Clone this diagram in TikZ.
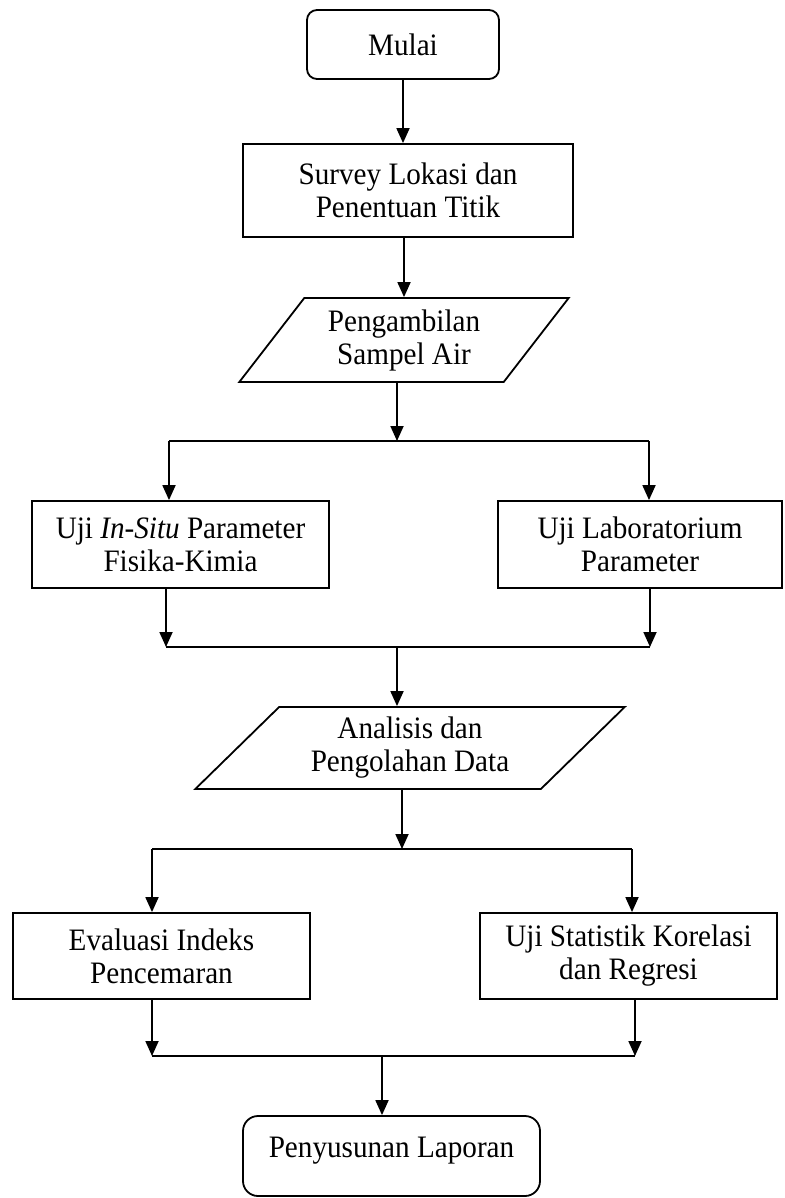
\documentclass[tikz,border=0pt]{standalone}
\usepackage{fontspec}
\setmainfont{Liberation Serif}[FakeStretch=0.935]
\usetikzlibrary{shapes.geometric,arrows.meta}

\begin{document}
\begin{tikzpicture}[x=1pt, y={(0pt,-1pt)}, line width=1.8pt,
        every node/.style={font=\fontsize{31.2}{33}\selectfont, align=center, inner sep=0pt},
        term/.style={draw, rounded corners=10pt, minimum width=192, minimum height=69},
        box/.style={draw, minimum width=297, minimum height=87},
        data/.style={draw, trapezium, trapezium stretches=true},
        arr/.style={-{Triangle[length=15pt,width=13pt]}}]
        \useasboundingbox (0,0) rectangle (784,1198);

        % steps
        \node[term] (mulai) at (403,44.5) {Mulai};
        \node[box, minimum width=330, minimum height=93] (survey) at (408,190.5) {Survey Lokasi dan\\Penentuan Titik};
        \node[data, trapezium left angle=51, trapezium right angle=129, minimum width=330, minimum height=84] (sampel) at (404,340) {Pengambilan\\Sampel Air};
        \node[box] (insitu) at (180.5,544.5) {Uji \textit{In-Situ} Parameter\\Fisika-Kimia};
        \node[box, minimum width=284] (lab) at (640,544.5) {Uji Laboratorium\\Parameter};
        \node[data, trapezium left angle=44, trapezium right angle=136, minimum width=430, minimum height=82] (analisis) at (410,748) {Analisis dan\\Pengolahan Data};
        \node[box, minimum height=86] (evaluasi) at (161.5,956) {Evaluasi Indeks\\Pencemaran};
        \node[box, minimum height=86] (regresi) at (628.5,956) {Uji Statistik Korelasi\\dan Regresi};
        \node[term, rounded corners=15pt, minimum width=297, minimum height=80, text depth=18pt] (laporan) at (391.5,1156) {Penyusunan Laporan};

        % branch points
        \coordinate (s1)  at (397,441);
        \coordinate (s1l) at (169,441);
        \coordinate (s1r) at (649,441);
        \coordinate (j1)  at (397,647);
        \coordinate (j1l) at (166,647);
        \coordinate (j1r) at (650,647);
        \coordinate (s2)  at (402,849);
        \coordinate (s2l) at (152,849);
        \coordinate (s2r) at (632,849);
        \coordinate (j2)  at (382,1056);
        \coordinate (j2l) at (152,1056);
        \coordinate (j2r) at (635,1056);

        \draw[arr] (mulai.south) -- (mulai.south |- survey.north);
        \draw[arr] (survey.south -| sampel.north) -- (sampel.north);
        \draw[arr] (sampel.south -| s1) -- (s1);
        \draw      (s1l) -- (s1r);
        \draw[arr] (s1l) -- (s1l |- insitu.north);
        \draw[arr] (s1r) -- (s1r |- lab.north);
        \draw[arr] (insitu.south -| j1l) -- (j1l);
        \draw[arr] (lab.south -| j1r) -- (j1r);
        \draw      (j1l) -- (j1r);
        \draw[arr] (j1) -- (j1 |- analisis.north);
        \draw[arr] (analisis.south -| s2) -- (s2);
        \draw      (s2l) -- (s2r);
        \draw[arr] (s2l) -- (s2l |- evaluasi.north);
        \draw[arr] (s2r) -- (s2r |- regresi.north);
        \draw[arr] (evaluasi.south -| j2l) -- (j2l);
        \draw[arr] (regresi.south -| j2r) -- (j2r);
        \draw      (j2l) -- (j2r);
        \draw[arr] (j2) -- (j2 |- laporan.north);
    \end{tikzpicture}
\end{document}
